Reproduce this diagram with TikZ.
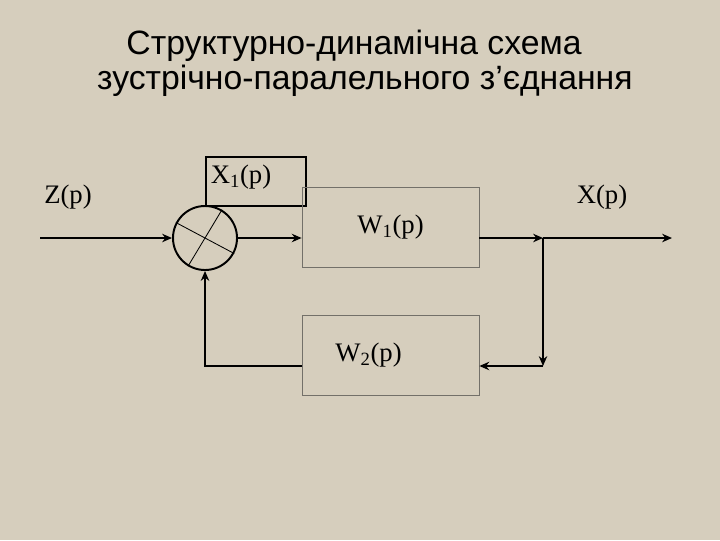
\documentclass[tikz,border=0pt]{standalone}
\usepackage{fontspec}
\setmainfont{Liberation Serif}
\newfontfamily\titlefont{Liberation Sans}
\usetikzlibrary{arrows.meta}
\definecolor{paper}{RGB}{214,206,189}
\definecolor{frame}{RGB}{115,112,105}

\begin{document}
\begin{tikzpicture}[x=0.025cm, y=-0.025cm,
    every node/.style={font=\fontsize{19}{21}\selectfont, inner sep=0pt},
    block/.style={rectangle, draw=frame, line width=0.5pt,
                  minimum width=4.425cm, minimum height=2cm},
    sumnode/.style={circle, draw=black, line width=1.4pt, minimum size=1.6cm},
    arr/.style={-{Stealth[length=7pt, width=6pt]}, line width=1.8pt},
    title/.style={font=\titlefont\fontsize{24}{28}\selectfont},
  ]
  % background and page size
  \fill[paper] (0,0) rectangle (720,540);
  \useasboundingbox (0,0) rectangle (720,540);
  \node[title] (t1) at (354,46) {Структурно-динамічна схема};
  \node[title] (t2) at (365,81) {зустрічно-паралельного з’єднання};
  % blocks
  \node[sumnode] (sum) at (205,238) {};
  \draw[line width=0.6pt] (sum.152) -- (sum.-28);
  \draw[line width=0.6pt] (sum.59) -- (sum.239);
  \node[rectangle, draw=black, line width=1.5pt, minimum width=2.5cm,
        minimum height=1.225cm] (xbox) at (256,181.5) {};
  \node (x1) at (241,177) {X\textsubscript{1}(p)};
  \node[block] (w1) at (390.5,227) {W\textsubscript{1}(p)};
  \node[block, label={[xshift=-0.55cm]center:W\textsubscript{2}(p)}] (w2) at (390.5,355) {};
  \node (z) at (68,197) {Z(p)};
  \node (x) at (602,197) {X(p)};
  % connectors
  \coordinate (zin) at (40,238);
  \coordinate (split) at (543,238);
  \coordinate (xout) at (672,238);
  \coordinate (turn) at (543,366);
  \draw[arr] (zin) -- (sum.west);
  \draw[arr] (sum.east) -- (w1.west |- sum.east);
  \draw[arr] (w1.east |- split) -- (split);
  \draw[arr] (split) -- (xout);
  \draw[arr] (split) -- (turn);
  \draw[arr] (turn) -- (turn -| w2.east);
  \draw[arr] (turn -| w2.west) -| (sum.south);
\end{tikzpicture}
\end{document}
